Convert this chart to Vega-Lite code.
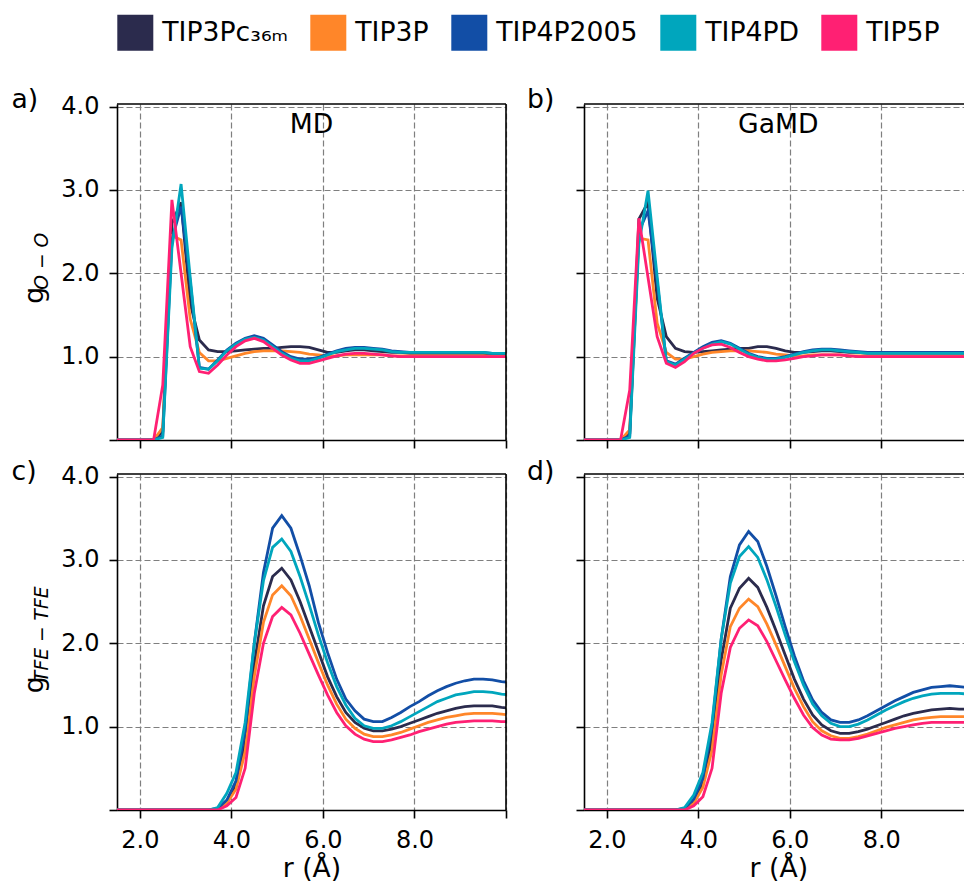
{
  "$schema": "https://vega.github.io/schema/vega-lite/v6.json",
  "padding": {"left": 11, "top": 14, "right": 0, "bottom": 0},
  "background": "white",
  "config": {
    "font": "DejaVu Sans",
    "view": {"stroke": null},
    "axis": {
      "domainColor": "black", "domainWidth": 1.6,
      "tickColor": "black", "tickWidth": 1.6, "tickSize": 8,
      "gridColor": "#7f7f7f", "gridDash": [6, 3], "gridWidth": 1.2,
      "labelColor": "black", "labelFontSize": 24, "labelPadding": 10, "labelFlush": false, "labelOverlap": false,
      "titleColor": "black", "titleFontWeight": "normal"
    },
    "title": {"fontSize": 26.67, "fontWeight": "normal", "anchor": "start", "frame": "group", "color": "black", "offset": 0, "baseline": "alphabetic"}
  },
  "datasets": {
    "mdOO": [
      {"m":"TIP3P_C36m","r":1.5,"g":0},{"m":"TIP3P_C36m","r":2.3,"g":0},{"m":"TIP3P_C36m","r":2.5,"g":0.1},{"m":"TIP3P_C36m","r":2.7,"g":2.6},{"m":"TIP3P_C36m","r":2.9,"g":2.85},{"m":"TIP3P_C36m","r":3.1,"g":1.64},{"m":"TIP3P_C36m","r":3.3,"g":1.2},{"m":"TIP3P_C36m","r":3.5,"g":1.08},{"m":"TIP3P_C36m","r":3.7,"g":1.06},{"m":"TIP3P_C36m","r":3.9,"g":1.06},{"m":"TIP3P_C36m","r":4.1,"g":1.07},{"m":"TIP3P_C36m","r":4.3,"g":1.08},{"m":"TIP3P_C36m","r":4.5,"g":1.09},{"m":"TIP3P_C36m","r":4.7,"g":1.1},{"m":"TIP3P_C36m","r":4.9,"g":1.1},{"m":"TIP3P_C36m","r":5.1,"g":1.11},{"m":"TIP3P_C36m","r":5.3,"g":1.12},{"m":"TIP3P_C36m","r":5.5,"g":1.12},{"m":"TIP3P_C36m","r":5.7,"g":1.11},{"m":"TIP3P_C36m","r":5.9,"g":1.08},{"m":"TIP3P_C36m","r":6.1,"g":1.05},{"m":"TIP3P_C36m","r":6.3,"g":1.05},{"m":"TIP3P_C36m","r":6.5,"g":1.07},{"m":"TIP3P_C36m","r":6.7,"g":1.08},{"m":"TIP3P_C36m","r":6.9,"g":1.08},{"m":"TIP3P_C36m","r":7.1,"g":1.07},{"m":"TIP3P_C36m","r":7.3,"g":1.06},{"m":"TIP3P_C36m","r":7.5,"g":1.05},{"m":"TIP3P_C36m","r":7.7,"g":1.05},{"m":"TIP3P_C36m","r":7.9,"g":1.04},{"m":"TIP3P_C36m","r":8.1,"g":1.04},{"m":"TIP3P_C36m","r":8.3,"g":1.04},{"m":"TIP3P_C36m","r":8.5,"g":1.04},{"m":"TIP3P_C36m","r":8.7,"g":1.04},{"m":"TIP3P_C36m","r":8.9,"g":1.04},{"m":"TIP3P_C36m","r":9.1,"g":1.04},{"m":"TIP3P_C36m","r":9.3,"g":1.04},{"m":"TIP3P_C36m","r":9.5,"g":1.04},{"m":"TIP3P_C36m","r":9.7,"g":1.03},{"m":"TIP3P_C36m","r":9.9,"g":1.03},{"m":"TIP3P_C36m","r":10.1,"g":1.03},
      {"m":"TIP3P","r":1.5,"g":0},{"m":"TIP3P","r":2.3,"g":0},{"m":"TIP3P","r":2.5,"g":0.15},{"m":"TIP3P","r":2.7,"g":2.45},{"m":"TIP3P","r":2.9,"g":2.4},{"m":"TIP3P","r":3.1,"g":1.45},{"m":"TIP3P","r":3.3,"g":1.05},{"m":"TIP3P","r":3.5,"g":0.95},{"m":"TIP3P","r":3.7,"g":0.95},{"m":"TIP3P","r":3.9,"g":0.98},{"m":"TIP3P","r":4.1,"g":1.01},{"m":"TIP3P","r":4.3,"g":1.04},{"m":"TIP3P","r":4.5,"g":1.06},{"m":"TIP3P","r":4.7,"g":1.07},{"m":"TIP3P","r":4.9,"g":1.07},{"m":"TIP3P","r":5.1,"g":1.07},{"m":"TIP3P","r":5.3,"g":1.06},{"m":"TIP3P","r":5.5,"g":1.05},{"m":"TIP3P","r":5.7,"g":1.03},{"m":"TIP3P","r":5.9,"g":1.02},{"m":"TIP3P","r":6.1,"g":1.01},{"m":"TIP3P","r":6.3,"g":1.01},{"m":"TIP3P","r":6.5,"g":1.02},{"m":"TIP3P","r":6.7,"g":1.02},{"m":"TIP3P","r":6.9,"g":1.02},{"m":"TIP3P","r":7.1,"g":1.02},{"m":"TIP3P","r":7.3,"g":1.02},{"m":"TIP3P","r":7.5,"g":1.01},{"m":"TIP3P","r":7.7,"g":1.01},{"m":"TIP3P","r":7.9,"g":1.01},{"m":"TIP3P","r":8.1,"g":1.01},{"m":"TIP3P","r":8.3,"g":1.01},{"m":"TIP3P","r":8.5,"g":1.01},{"m":"TIP3P","r":8.7,"g":1.01},{"m":"TIP3P","r":8.9,"g":1.01},{"m":"TIP3P","r":9.1,"g":1.01},{"m":"TIP3P","r":9.3,"g":1.01},{"m":"TIP3P","r":9.5,"g":1.01},{"m":"TIP3P","r":9.7,"g":1.01},{"m":"TIP3P","r":9.9,"g":1.01},{"m":"TIP3P","r":10.1,"g":1.01},
      {"m":"TIP4P2005","r":1.5,"g":0},{"m":"TIP4P2005","r":2.3,"g":0},{"m":"TIP4P2005","r":2.5,"g":0.05},{"m":"TIP4P2005","r":2.7,"g":2.4},{"m":"TIP4P2005","r":2.9,"g":2.8},{"m":"TIP4P2005","r":3.1,"g":1.9},{"m":"TIP4P2005","r":3.3,"g":0.87},{"m":"TIP4P2005","r":3.5,"g":0.85},{"m":"TIP4P2005","r":3.7,"g":0.96},{"m":"TIP4P2005","r":3.9,"g":1.08},{"m":"TIP4P2005","r":4.1,"g":1.16},{"m":"TIP4P2005","r":4.3,"g":1.22},{"m":"TIP4P2005","r":4.5,"g":1.25},{"m":"TIP4P2005","r":4.7,"g":1.22},{"m":"TIP4P2005","r":4.9,"g":1.14},{"m":"TIP4P2005","r":5.1,"g":1.06},{"m":"TIP4P2005","r":5.3,"g":1.0},{"m":"TIP4P2005","r":5.5,"g":0.97},{"m":"TIP4P2005","r":5.7,"g":0.97},{"m":"TIP4P2005","r":5.9,"g":0.99},{"m":"TIP4P2005","r":6.1,"g":1.03},{"m":"TIP4P2005","r":6.3,"g":1.07},{"m":"TIP4P2005","r":6.5,"g":1.1},{"m":"TIP4P2005","r":6.7,"g":1.11},{"m":"TIP4P2005","r":6.9,"g":1.11},{"m":"TIP4P2005","r":7.1,"g":1.1},{"m":"TIP4P2005","r":7.3,"g":1.09},{"m":"TIP4P2005","r":7.5,"g":1.07},{"m":"TIP4P2005","r":7.7,"g":1.06},{"m":"TIP4P2005","r":7.9,"g":1.05},{"m":"TIP4P2005","r":8.1,"g":1.05},{"m":"TIP4P2005","r":8.3,"g":1.05},{"m":"TIP4P2005","r":8.5,"g":1.05},{"m":"TIP4P2005","r":8.7,"g":1.05},{"m":"TIP4P2005","r":8.9,"g":1.05},{"m":"TIP4P2005","r":9.1,"g":1.05},{"m":"TIP4P2005","r":9.3,"g":1.05},{"m":"TIP4P2005","r":9.5,"g":1.05},{"m":"TIP4P2005","r":9.7,"g":1.04},{"m":"TIP4P2005","r":9.9,"g":1.04},{"m":"TIP4P2005","r":10.1,"g":1.04},
      {"m":"TIP4PD","r":1.5,"g":0},{"m":"TIP4PD","r":2.3,"g":0},{"m":"TIP4PD","r":2.5,"g":0.03},{"m":"TIP4PD","r":2.7,"g":2.3},{"m":"TIP4PD","r":2.9,"g":3.07},{"m":"TIP4PD","r":3.1,"g":1.95},{"m":"TIP4PD","r":3.3,"g":0.86},{"m":"TIP4PD","r":3.5,"g":0.85},{"m":"TIP4PD","r":3.7,"g":0.95},{"m":"TIP4PD","r":3.9,"g":1.07},{"m":"TIP4PD","r":4.1,"g":1.15},{"m":"TIP4PD","r":4.3,"g":1.21},{"m":"TIP4PD","r":4.5,"g":1.23},{"m":"TIP4PD","r":4.7,"g":1.2},{"m":"TIP4PD","r":4.9,"g":1.12},{"m":"TIP4PD","r":5.1,"g":1.04},{"m":"TIP4PD","r":5.3,"g":0.98},{"m":"TIP4PD","r":5.5,"g":0.95},{"m":"TIP4PD","r":5.7,"g":0.95},{"m":"TIP4PD","r":5.9,"g":0.98},{"m":"TIP4PD","r":6.1,"g":1.02},{"m":"TIP4PD","r":6.3,"g":1.06},{"m":"TIP4PD","r":6.5,"g":1.08},{"m":"TIP4PD","r":6.7,"g":1.1},{"m":"TIP4PD","r":6.9,"g":1.1},{"m":"TIP4PD","r":7.1,"g":1.09},{"m":"TIP4PD","r":7.3,"g":1.08},{"m":"TIP4PD","r":7.5,"g":1.06},{"m":"TIP4PD","r":7.7,"g":1.05},{"m":"TIP4PD","r":7.9,"g":1.05},{"m":"TIP4PD","r":8.1,"g":1.05},{"m":"TIP4PD","r":8.3,"g":1.05},{"m":"TIP4PD","r":8.5,"g":1.05},{"m":"TIP4PD","r":8.7,"g":1.05},{"m":"TIP4PD","r":8.9,"g":1.05},{"m":"TIP4PD","r":9.1,"g":1.05},{"m":"TIP4PD","r":9.3,"g":1.05},{"m":"TIP4PD","r":9.5,"g":1.05},{"m":"TIP4PD","r":9.7,"g":1.04},{"m":"TIP4PD","r":9.9,"g":1.04},{"m":"TIP4PD","r":10.1,"g":1.04},
      {"m":"TIP5P","r":1.5,"g":0},{"m":"TIP5P","r":2.3,"g":0},{"m":"TIP5P","r":2.5,"g":0.66},{"m":"TIP5P","r":2.7,"g":2.88},{"m":"TIP5P","r":2.9,"g":2.0},{"m":"TIP5P","r":3.1,"g":1.12},{"m":"TIP5P","r":3.3,"g":0.82},{"m":"TIP5P","r":3.5,"g":0.8},{"m":"TIP5P","r":3.7,"g":0.9},{"m":"TIP5P","r":3.9,"g":1.02},{"m":"TIP5P","r":4.1,"g":1.12},{"m":"TIP5P","r":4.3,"g":1.19},{"m":"TIP5P","r":4.5,"g":1.22},{"m":"TIP5P","r":4.7,"g":1.18},{"m":"TIP5P","r":4.9,"g":1.1},{"m":"TIP5P","r":5.1,"g":1.02},{"m":"TIP5P","r":5.3,"g":0.96},{"m":"TIP5P","r":5.5,"g":0.92},{"m":"TIP5P","r":5.7,"g":0.92},{"m":"TIP5P","r":5.9,"g":0.95},{"m":"TIP5P","r":6.1,"g":0.98},{"m":"TIP5P","r":6.3,"g":1.01},{"m":"TIP5P","r":6.5,"g":1.03},{"m":"TIP5P","r":6.7,"g":1.04},{"m":"TIP5P","r":6.9,"g":1.04},{"m":"TIP5P","r":7.1,"g":1.03},{"m":"TIP5P","r":7.3,"g":1.02},{"m":"TIP5P","r":7.5,"g":1.01},{"m":"TIP5P","r":7.7,"g":1.0},{"m":"TIP5P","r":7.9,"g":1.0},{"m":"TIP5P","r":8.1,"g":1.0},{"m":"TIP5P","r":8.3,"g":1.0},{"m":"TIP5P","r":8.5,"g":1.0},{"m":"TIP5P","r":8.7,"g":1.0},{"m":"TIP5P","r":8.9,"g":1.0},{"m":"TIP5P","r":9.1,"g":1.0},{"m":"TIP5P","r":9.3,"g":1.0},{"m":"TIP5P","r":9.5,"g":1.0},{"m":"TIP5P","r":9.7,"g":1.0},{"m":"TIP5P","r":9.9,"g":1.0},{"m":"TIP5P","r":10.1,"g":1.0}
    ],
    "gamdOO": [
      {"m":"TIP3P_C36m","r":1.5,"g":0},{"m":"TIP3P_C36m","r":2.3,"g":0},{"m":"TIP3P_C36m","r":2.5,"g":0.08},{"m":"TIP3P_C36m","r":2.7,"g":2.65},{"m":"TIP3P_C36m","r":2.9,"g":2.85},{"m":"TIP3P_C36m","r":3.1,"g":1.7},{"m":"TIP3P_C36m","r":3.3,"g":1.24},{"m":"TIP3P_C36m","r":3.5,"g":1.1},{"m":"TIP3P_C36m","r":3.7,"g":1.06},{"m":"TIP3P_C36m","r":3.9,"g":1.05},{"m":"TIP3P_C36m","r":4.1,"g":1.06},{"m":"TIP3P_C36m","r":4.3,"g":1.07},{"m":"TIP3P_C36m","r":4.5,"g":1.08},{"m":"TIP3P_C36m","r":4.7,"g":1.09},{"m":"TIP3P_C36m","r":4.9,"g":1.1},{"m":"TIP3P_C36m","r":5.1,"g":1.1},{"m":"TIP3P_C36m","r":5.3,"g":1.12},{"m":"TIP3P_C36m","r":5.5,"g":1.12},{"m":"TIP3P_C36m","r":5.7,"g":1.1},{"m":"TIP3P_C36m","r":5.9,"g":1.07},{"m":"TIP3P_C36m","r":6.1,"g":1.05},{"m":"TIP3P_C36m","r":6.3,"g":1.05},{"m":"TIP3P_C36m","r":6.5,"g":1.06},{"m":"TIP3P_C36m","r":6.7,"g":1.07},{"m":"TIP3P_C36m","r":6.9,"g":1.07},{"m":"TIP3P_C36m","r":7.1,"g":1.06},{"m":"TIP3P_C36m","r":7.3,"g":1.05},{"m":"TIP3P_C36m","r":7.5,"g":1.05},{"m":"TIP3P_C36m","r":7.7,"g":1.04},{"m":"TIP3P_C36m","r":7.9,"g":1.04},{"m":"TIP3P_C36m","r":8.1,"g":1.04},{"m":"TIP3P_C36m","r":8.3,"g":1.04},{"m":"TIP3P_C36m","r":8.5,"g":1.04},{"m":"TIP3P_C36m","r":8.7,"g":1.04},{"m":"TIP3P_C36m","r":8.9,"g":1.04},{"m":"TIP3P_C36m","r":9.1,"g":1.04},{"m":"TIP3P_C36m","r":9.3,"g":1.04},{"m":"TIP3P_C36m","r":9.5,"g":1.04},{"m":"TIP3P_C36m","r":9.7,"g":1.04},{"m":"TIP3P_C36m","r":9.9,"g":1.04},{"m":"TIP3P_C36m","r":10.1,"g":1.04},
      {"m":"TIP3P","r":1.5,"g":0},{"m":"TIP3P","r":2.3,"g":0},{"m":"TIP3P","r":2.5,"g":0.12},{"m":"TIP3P","r":2.7,"g":2.42},{"m":"TIP3P","r":2.9,"g":2.4},{"m":"TIP3P","r":3.1,"g":1.4},{"m":"TIP3P","r":3.3,"g":1.05},{"m":"TIP3P","r":3.5,"g":0.97},{"m":"TIP3P","r":3.7,"g":0.97},{"m":"TIP3P","r":3.9,"g":1.0},{"m":"TIP3P","r":4.1,"g":1.03},{"m":"TIP3P","r":4.3,"g":1.05},{"m":"TIP3P","r":4.5,"g":1.06},{"m":"TIP3P","r":4.7,"g":1.07},{"m":"TIP3P","r":4.9,"g":1.07},{"m":"TIP3P","r":5.1,"g":1.07},{"m":"TIP3P","r":5.3,"g":1.06},{"m":"TIP3P","r":5.5,"g":1.05},{"m":"TIP3P","r":5.7,"g":1.03},{"m":"TIP3P","r":5.9,"g":1.02},{"m":"TIP3P","r":6.1,"g":1.01},{"m":"TIP3P","r":6.3,"g":1.01},{"m":"TIP3P","r":6.5,"g":1.02},{"m":"TIP3P","r":6.7,"g":1.02},{"m":"TIP3P","r":6.9,"g":1.02},{"m":"TIP3P","r":7.1,"g":1.02},{"m":"TIP3P","r":7.3,"g":1.01},{"m":"TIP3P","r":7.5,"g":1.01},{"m":"TIP3P","r":7.7,"g":1.01},{"m":"TIP3P","r":7.9,"g":1.01},{"m":"TIP3P","r":8.1,"g":1.01},{"m":"TIP3P","r":8.3,"g":1.01},{"m":"TIP3P","r":8.5,"g":1.01},{"m":"TIP3P","r":8.7,"g":1.01},{"m":"TIP3P","r":8.9,"g":1.01},{"m":"TIP3P","r":9.1,"g":1.01},{"m":"TIP3P","r":9.3,"g":1.01},{"m":"TIP3P","r":9.5,"g":1.01},{"m":"TIP3P","r":9.7,"g":1.01},{"m":"TIP3P","r":9.9,"g":1.01},{"m":"TIP3P","r":10.1,"g":1.01},
      {"m":"TIP4P2005","r":1.5,"g":0},{"m":"TIP4P2005","r":2.3,"g":0},{"m":"TIP4P2005","r":2.5,"g":0.05},{"m":"TIP4P2005","r":2.7,"g":2.5},{"m":"TIP4P2005","r":2.9,"g":2.75},{"m":"TIP4P2005","r":3.1,"g":1.9},{"m":"TIP4P2005","r":3.3,"g":0.95},{"m":"TIP4P2005","r":3.5,"g":0.91},{"m":"TIP4P2005","r":3.7,"g":0.98},{"m":"TIP4P2005","r":3.9,"g":1.05},{"m":"TIP4P2005","r":4.1,"g":1.12},{"m":"TIP4P2005","r":4.3,"g":1.17},{"m":"TIP4P2005","r":4.5,"g":1.19},{"m":"TIP4P2005","r":4.7,"g":1.16},{"m":"TIP4P2005","r":4.9,"g":1.1},{"m":"TIP4P2005","r":5.1,"g":1.04},{"m":"TIP4P2005","r":5.3,"g":1.0},{"m":"TIP4P2005","r":5.5,"g":0.98},{"m":"TIP4P2005","r":5.7,"g":0.98},{"m":"TIP4P2005","r":5.9,"g":1.0},{"m":"TIP4P2005","r":6.1,"g":1.03},{"m":"TIP4P2005","r":6.3,"g":1.06},{"m":"TIP4P2005","r":6.5,"g":1.08},{"m":"TIP4P2005","r":6.7,"g":1.09},{"m":"TIP4P2005","r":6.9,"g":1.09},{"m":"TIP4P2005","r":7.1,"g":1.08},{"m":"TIP4P2005","r":7.3,"g":1.07},{"m":"TIP4P2005","r":7.5,"g":1.06},{"m":"TIP4P2005","r":7.7,"g":1.05},{"m":"TIP4P2005","r":7.9,"g":1.05},{"m":"TIP4P2005","r":8.1,"g":1.05},{"m":"TIP4P2005","r":8.3,"g":1.05},{"m":"TIP4P2005","r":8.5,"g":1.05},{"m":"TIP4P2005","r":8.7,"g":1.05},{"m":"TIP4P2005","r":8.9,"g":1.05},{"m":"TIP4P2005","r":9.1,"g":1.05},{"m":"TIP4P2005","r":9.3,"g":1.05},{"m":"TIP4P2005","r":9.5,"g":1.05},{"m":"TIP4P2005","r":9.7,"g":1.05},{"m":"TIP4P2005","r":9.9,"g":1.05},{"m":"TIP4P2005","r":10.1,"g":1.05},
      {"m":"TIP4PD","r":1.5,"g":0},{"m":"TIP4PD","r":2.3,"g":0},{"m":"TIP4PD","r":2.5,"g":0.03},{"m":"TIP4PD","r":2.7,"g":2.35},{"m":"TIP4PD","r":2.9,"g":2.99},{"m":"TIP4PD","r":3.1,"g":1.96},{"m":"TIP4PD","r":3.3,"g":0.94},{"m":"TIP4PD","r":3.5,"g":0.9},{"m":"TIP4PD","r":3.7,"g":0.97},{"m":"TIP4PD","r":3.9,"g":1.04},{"m":"TIP4PD","r":4.1,"g":1.1},{"m":"TIP4PD","r":4.3,"g":1.15},{"m":"TIP4PD","r":4.5,"g":1.18},{"m":"TIP4PD","r":4.7,"g":1.15},{"m":"TIP4PD","r":4.9,"g":1.09},{"m":"TIP4PD","r":5.1,"g":1.03},{"m":"TIP4PD","r":5.3,"g":0.99},{"m":"TIP4PD","r":5.5,"g":0.97},{"m":"TIP4PD","r":5.7,"g":0.97},{"m":"TIP4PD","r":5.9,"g":0.99},{"m":"TIP4PD","r":6.1,"g":1.02},{"m":"TIP4PD","r":6.3,"g":1.05},{"m":"TIP4PD","r":6.5,"g":1.07},{"m":"TIP4PD","r":6.7,"g":1.08},{"m":"TIP4PD","r":6.9,"g":1.08},{"m":"TIP4PD","r":7.1,"g":1.07},{"m":"TIP4PD","r":7.3,"g":1.06},{"m":"TIP4PD","r":7.5,"g":1.05},{"m":"TIP4PD","r":7.7,"g":1.04},{"m":"TIP4PD","r":7.9,"g":1.04},{"m":"TIP4PD","r":8.1,"g":1.04},{"m":"TIP4PD","r":8.3,"g":1.04},{"m":"TIP4PD","r":8.5,"g":1.04},{"m":"TIP4PD","r":8.7,"g":1.04},{"m":"TIP4PD","r":8.9,"g":1.04},{"m":"TIP4PD","r":9.1,"g":1.04},{"m":"TIP4PD","r":9.3,"g":1.04},{"m":"TIP4PD","r":9.5,"g":1.04},{"m":"TIP4PD","r":9.7,"g":1.04},{"m":"TIP4PD","r":9.9,"g":1.04},{"m":"TIP4PD","r":10.1,"g":1.04},
      {"m":"TIP5P","r":1.5,"g":0},{"m":"TIP5P","r":2.3,"g":0},{"m":"TIP5P","r":2.5,"g":0.6},{"m":"TIP5P","r":2.7,"g":2.66},{"m":"TIP5P","r":2.9,"g":1.95},{"m":"TIP5P","r":3.1,"g":1.24},{"m":"TIP5P","r":3.3,"g":0.92},{"m":"TIP5P","r":3.5,"g":0.87},{"m":"TIP5P","r":3.7,"g":0.94},{"m":"TIP5P","r":3.9,"g":1.04},{"m":"TIP5P","r":4.1,"g":1.1},{"m":"TIP5P","r":4.3,"g":1.14},{"m":"TIP5P","r":4.5,"g":1.15},{"m":"TIP5P","r":4.7,"g":1.11},{"m":"TIP5P","r":4.9,"g":1.05},{"m":"TIP5P","r":5.1,"g":1.0},{"m":"TIP5P","r":5.3,"g":0.97},{"m":"TIP5P","r":5.5,"g":0.95},{"m":"TIP5P","r":5.7,"g":0.95},{"m":"TIP5P","r":5.9,"g":0.96},{"m":"TIP5P","r":6.1,"g":0.98},{"m":"TIP5P","r":6.3,"g":1.0},{"m":"TIP5P","r":6.5,"g":1.01},{"m":"TIP5P","r":6.7,"g":1.02},{"m":"TIP5P","r":6.9,"g":1.02},{"m":"TIP5P","r":7.1,"g":1.02},{"m":"TIP5P","r":7.3,"g":1.01},{"m":"TIP5P","r":7.5,"g":1.0},{"m":"TIP5P","r":7.7,"g":1.0},{"m":"TIP5P","r":7.9,"g":1.0},{"m":"TIP5P","r":8.1,"g":1.0},{"m":"TIP5P","r":8.3,"g":1.0},{"m":"TIP5P","r":8.5,"g":1.0},{"m":"TIP5P","r":8.7,"g":1.0},{"m":"TIP5P","r":8.9,"g":1.0},{"m":"TIP5P","r":9.1,"g":1.0},{"m":"TIP5P","r":9.3,"g":1.0},{"m":"TIP5P","r":9.5,"g":1.0},{"m":"TIP5P","r":9.7,"g":1.0},{"m":"TIP5P","r":9.9,"g":1.0},{"m":"TIP5P","r":10.1,"g":1.0}
    ],
    "mdTFE": [
      {"m":"TIP3P_C36m","r":1.5,"g":0},{"m":"TIP3P_C36m","r":3.5,"g":0},{"m":"TIP3P_C36m","r":3.7,"g":0.01},{"m":"TIP3P_C36m","r":3.9,"g":0.1},{"m":"TIP3P_C36m","r":4.1,"g":0.3},{"m":"TIP3P_C36m","r":4.3,"g":0.8},{"m":"TIP3P_C36m","r":4.5,"g":1.75},{"m":"TIP3P_C36m","r":4.7,"g":2.45},{"m":"TIP3P_C36m","r":4.9,"g":2.8},{"m":"TIP3P_C36m","r":5.1,"g":2.9},{"m":"TIP3P_C36m","r":5.3,"g":2.76},{"m":"TIP3P_C36m","r":5.5,"g":2.5},{"m":"TIP3P_C36m","r":5.7,"g":2.2},{"m":"TIP3P_C36m","r":5.9,"g":1.9},{"m":"TIP3P_C36m","r":6.1,"g":1.6},{"m":"TIP3P_C36m","r":6.3,"g":1.36},{"m":"TIP3P_C36m","r":6.5,"g":1.17},{"m":"TIP3P_C36m","r":6.7,"g":1.05},{"m":"TIP3P_C36m","r":6.9,"g":0.98},{"m":"TIP3P_C36m","r":7.1,"g":0.95},{"m":"TIP3P_C36m","r":7.3,"g":0.95},{"m":"TIP3P_C36m","r":7.5,"g":0.97},{"m":"TIP3P_C36m","r":7.7,"g":1.0},{"m":"TIP3P_C36m","r":7.9,"g":1.04},{"m":"TIP3P_C36m","r":8.1,"g":1.08},{"m":"TIP3P_C36m","r":8.3,"g":1.12},{"m":"TIP3P_C36m","r":8.5,"g":1.16},{"m":"TIP3P_C36m","r":8.7,"g":1.19},{"m":"TIP3P_C36m","r":8.9,"g":1.22},{"m":"TIP3P_C36m","r":9.1,"g":1.24},{"m":"TIP3P_C36m","r":9.3,"g":1.25},{"m":"TIP3P_C36m","r":9.5,"g":1.25},{"m":"TIP3P_C36m","r":9.7,"g":1.25},{"m":"TIP3P_C36m","r":9.9,"g":1.23},{"m":"TIP3P_C36m","r":10.1,"g":1.22},
      {"m":"TIP3P","r":1.5,"g":0},{"m":"TIP3P","r":3.5,"g":0},{"m":"TIP3P","r":3.7,"g":0.01},{"m":"TIP3P","r":3.9,"g":0.08},{"m":"TIP3P","r":4.1,"g":0.25},{"m":"TIP3P","r":4.3,"g":0.7},{"m":"TIP3P","r":4.5,"g":1.6},{"m":"TIP3P","r":4.7,"g":2.25},{"m":"TIP3P","r":4.9,"g":2.58},{"m":"TIP3P","r":5.1,"g":2.69},{"m":"TIP3P","r":5.3,"g":2.57},{"m":"TIP3P","r":5.5,"g":2.33},{"m":"TIP3P","r":5.7,"g":2.05},{"m":"TIP3P","r":5.9,"g":1.77},{"m":"TIP3P","r":6.1,"g":1.5},{"m":"TIP3P","r":6.3,"g":1.27},{"m":"TIP3P","r":6.5,"g":1.09},{"m":"TIP3P","r":6.7,"g":0.98},{"m":"TIP3P","r":6.9,"g":0.91},{"m":"TIP3P","r":7.1,"g":0.88},{"m":"TIP3P","r":7.3,"g":0.88},{"m":"TIP3P","r":7.5,"g":0.9},{"m":"TIP3P","r":7.7,"g":0.93},{"m":"TIP3P","r":7.9,"g":0.97},{"m":"TIP3P","r":8.1,"g":1.01},{"m":"TIP3P","r":8.3,"g":1.05},{"m":"TIP3P","r":8.5,"g":1.08},{"m":"TIP3P","r":8.7,"g":1.11},{"m":"TIP3P","r":8.9,"g":1.13},{"m":"TIP3P","r":9.1,"g":1.15},{"m":"TIP3P","r":9.3,"g":1.16},{"m":"TIP3P","r":9.5,"g":1.16},{"m":"TIP3P","r":9.7,"g":1.16},{"m":"TIP3P","r":9.9,"g":1.15},{"m":"TIP3P","r":10.1,"g":1.14},
      {"m":"TIP4P2005","r":1.5,"g":0},{"m":"TIP4P2005","r":3.5,"g":0},{"m":"TIP4P2005","r":3.7,"g":0.02},{"m":"TIP4P2005","r":3.9,"g":0.12},{"m":"TIP4P2005","r":4.1,"g":0.35},{"m":"TIP4P2005","r":4.3,"g":0.95},{"m":"TIP4P2005","r":4.5,"g":2.0},{"m":"TIP4P2005","r":4.7,"g":2.85},{"m":"TIP4P2005","r":4.9,"g":3.38},{"m":"TIP4P2005","r":5.1,"g":3.53},{"m":"TIP4P2005","r":5.3,"g":3.38},{"m":"TIP4P2005","r":5.5,"g":3.05},{"m":"TIP4P2005","r":5.7,"g":2.69},{"m":"TIP4P2005","r":5.9,"g":2.25},{"m":"TIP4P2005","r":6.1,"g":1.89},{"m":"TIP4P2005","r":6.3,"g":1.57},{"m":"TIP4P2005","r":6.5,"g":1.33},{"m":"TIP4P2005","r":6.7,"g":1.19},{"m":"TIP4P2005","r":6.9,"g":1.09},{"m":"TIP4P2005","r":7.1,"g":1.06},{"m":"TIP4P2005","r":7.3,"g":1.06},{"m":"TIP4P2005","r":7.5,"g":1.11},{"m":"TIP4P2005","r":7.7,"g":1.17},{"m":"TIP4P2005","r":7.9,"g":1.24},{"m":"TIP4P2005","r":8.1,"g":1.3},{"m":"TIP4P2005","r":8.3,"g":1.37},{"m":"TIP4P2005","r":8.5,"g":1.43},{"m":"TIP4P2005","r":8.7,"g":1.48},{"m":"TIP4P2005","r":8.9,"g":1.52},{"m":"TIP4P2005","r":9.1,"g":1.55},{"m":"TIP4P2005","r":9.3,"g":1.57},{"m":"TIP4P2005","r":9.5,"g":1.57},{"m":"TIP4P2005","r":9.7,"g":1.56},{"m":"TIP4P2005","r":9.9,"g":1.54},{"m":"TIP4P2005","r":10.1,"g":1.53},
      {"m":"TIP4PD","r":1.5,"g":0},{"m":"TIP4PD","r":3.5,"g":0},{"m":"TIP4PD","r":3.7,"g":0.03},{"m":"TIP4PD","r":3.9,"g":0.2},{"m":"TIP4PD","r":4.1,"g":0.45},{"m":"TIP4PD","r":4.3,"g":1.05},{"m":"TIP4PD","r":4.5,"g":2.0},{"m":"TIP4PD","r":4.7,"g":2.75},{"m":"TIP4PD","r":4.9,"g":3.15},{"m":"TIP4PD","r":5.1,"g":3.25},{"m":"TIP4PD","r":5.3,"g":3.1},{"m":"TIP4PD","r":5.5,"g":2.8},{"m":"TIP4PD","r":5.7,"g":2.46},{"m":"TIP4PD","r":5.9,"g":2.1},{"m":"TIP4PD","r":6.1,"g":1.77},{"m":"TIP4PD","r":6.3,"g":1.48},{"m":"TIP4PD","r":6.5,"g":1.26},{"m":"TIP4PD","r":6.7,"g":1.1},{"m":"TIP4PD","r":6.9,"g":1.01},{"m":"TIP4PD","r":7.1,"g":0.98},{"m":"TIP4PD","r":7.3,"g":0.98},{"m":"TIP4PD","r":7.5,"g":1.01},{"m":"TIP4PD","r":7.7,"g":1.06},{"m":"TIP4PD","r":7.9,"g":1.12},{"m":"TIP4PD","r":8.1,"g":1.18},{"m":"TIP4PD","r":8.3,"g":1.24},{"m":"TIP4PD","r":8.5,"g":1.3},{"m":"TIP4PD","r":8.7,"g":1.34},{"m":"TIP4PD","r":8.9,"g":1.38},{"m":"TIP4PD","r":9.1,"g":1.4},{"m":"TIP4PD","r":9.3,"g":1.42},{"m":"TIP4PD","r":9.5,"g":1.42},{"m":"TIP4PD","r":9.7,"g":1.41},{"m":"TIP4PD","r":9.9,"g":1.39},{"m":"TIP4PD","r":10.1,"g":1.38},
      {"m":"TIP5P","r":1.5,"g":0},{"m":"TIP5P","r":3.5,"g":0},{"m":"TIP5P","r":3.7,"g":0.0},{"m":"TIP5P","r":3.9,"g":0.05},{"m":"TIP5P","r":4.1,"g":0.15},{"m":"TIP5P","r":4.3,"g":0.5},{"m":"TIP5P","r":4.5,"g":1.4},{"m":"TIP5P","r":4.7,"g":2.0},{"m":"TIP5P","r":4.9,"g":2.32},{"m":"TIP5P","r":5.1,"g":2.43},{"m":"TIP5P","r":5.3,"g":2.34},{"m":"TIP5P","r":5.5,"g":2.12},{"m":"TIP5P","r":5.7,"g":1.87},{"m":"TIP5P","r":5.9,"g":1.62},{"m":"TIP5P","r":6.1,"g":1.38},{"m":"TIP5P","r":6.3,"g":1.17},{"m":"TIP5P","r":6.5,"g":1.01},{"m":"TIP5P","r":6.7,"g":0.91},{"m":"TIP5P","r":6.9,"g":0.85},{"m":"TIP5P","r":7.1,"g":0.82},{"m":"TIP5P","r":7.3,"g":0.82},{"m":"TIP5P","r":7.5,"g":0.84},{"m":"TIP5P","r":7.7,"g":0.87},{"m":"TIP5P","r":7.9,"g":0.9},{"m":"TIP5P","r":8.1,"g":0.94},{"m":"TIP5P","r":8.3,"g":0.97},{"m":"TIP5P","r":8.5,"g":1.0},{"m":"TIP5P","r":8.7,"g":1.03},{"m":"TIP5P","r":8.9,"g":1.05},{"m":"TIP5P","r":9.1,"g":1.06},{"m":"TIP5P","r":9.3,"g":1.07},{"m":"TIP5P","r":9.5,"g":1.07},{"m":"TIP5P","r":9.7,"g":1.07},{"m":"TIP5P","r":9.9,"g":1.06},{"m":"TIP5P","r":10.1,"g":1.06}
    ],
    "gamdTFE": [
      {"m":"TIP3P_C36m","r":1.5,"g":0},{"m":"TIP3P_C36m","r":3.5,"g":0},{"m":"TIP3P_C36m","r":3.7,"g":0.01},{"m":"TIP3P_C36m","r":3.9,"g":0.1},{"m":"TIP3P_C36m","r":4.1,"g":0.32},{"m":"TIP3P_C36m","r":4.3,"g":0.85},{"m":"TIP3P_C36m","r":4.5,"g":1.8},{"m":"TIP3P_C36m","r":4.7,"g":2.42},{"m":"TIP3P_C36m","r":4.9,"g":2.66},{"m":"TIP3P_C36m","r":5.1,"g":2.78},{"m":"TIP3P_C36m","r":5.3,"g":2.67},{"m":"TIP3P_C36m","r":5.5,"g":2.43},{"m":"TIP3P_C36m","r":5.7,"g":2.15},{"m":"TIP3P_C36m","r":5.9,"g":1.86},{"m":"TIP3P_C36m","r":6.1,"g":1.57},{"m":"TIP3P_C36m","r":6.3,"g":1.33},{"m":"TIP3P_C36m","r":6.5,"g":1.14},{"m":"TIP3P_C36m","r":6.7,"g":1.02},{"m":"TIP3P_C36m","r":6.9,"g":0.95},{"m":"TIP3P_C36m","r":7.1,"g":0.92},{"m":"TIP3P_C36m","r":7.3,"g":0.92},{"m":"TIP3P_C36m","r":7.5,"g":0.94},{"m":"TIP3P_C36m","r":7.7,"g":0.97},{"m":"TIP3P_C36m","r":7.9,"g":1.01},{"m":"TIP3P_C36m","r":8.1,"g":1.05},{"m":"TIP3P_C36m","r":8.3,"g":1.09},{"m":"TIP3P_C36m","r":8.5,"g":1.13},{"m":"TIP3P_C36m","r":8.7,"g":1.16},{"m":"TIP3P_C36m","r":8.9,"g":1.18},{"m":"TIP3P_C36m","r":9.1,"g":1.2},{"m":"TIP3P_C36m","r":9.3,"g":1.21},{"m":"TIP3P_C36m","r":9.5,"g":1.22},{"m":"TIP3P_C36m","r":9.7,"g":1.21},{"m":"TIP3P_C36m","r":9.9,"g":1.21},{"m":"TIP3P_C36m","r":10.1,"g":1.21},
      {"m":"TIP3P","r":1.5,"g":0},{"m":"TIP3P","r":3.5,"g":0},{"m":"TIP3P","r":3.7,"g":0.01},{"m":"TIP3P","r":3.9,"g":0.08},{"m":"TIP3P","r":4.1,"g":0.27},{"m":"TIP3P","r":4.3,"g":0.72},{"m":"TIP3P","r":4.5,"g":1.62},{"m":"TIP3P","r":4.7,"g":2.2},{"m":"TIP3P","r":4.9,"g":2.42},{"m":"TIP3P","r":5.1,"g":2.53},{"m":"TIP3P","r":5.3,"g":2.44},{"m":"TIP3P","r":5.5,"g":2.23},{"m":"TIP3P","r":5.7,"g":1.98},{"m":"TIP3P","r":5.9,"g":1.72},{"m":"TIP3P","r":6.1,"g":1.46},{"m":"TIP3P","r":6.3,"g":1.24},{"m":"TIP3P","r":6.5,"g":1.06},{"m":"TIP3P","r":6.7,"g":0.95},{"m":"TIP3P","r":6.9,"g":0.89},{"m":"TIP3P","r":7.1,"g":0.86},{"m":"TIP3P","r":7.3,"g":0.86},{"m":"TIP3P","r":7.5,"g":0.88},{"m":"TIP3P","r":7.7,"g":0.91},{"m":"TIP3P","r":7.9,"g":0.95},{"m":"TIP3P","r":8.1,"g":0.99},{"m":"TIP3P","r":8.3,"g":1.02},{"m":"TIP3P","r":8.5,"g":1.05},{"m":"TIP3P","r":8.7,"g":1.08},{"m":"TIP3P","r":8.9,"g":1.1},{"m":"TIP3P","r":9.1,"g":1.11},{"m":"TIP3P","r":9.3,"g":1.12},{"m":"TIP3P","r":9.5,"g":1.12},{"m":"TIP3P","r":9.7,"g":1.12},{"m":"TIP3P","r":9.9,"g":1.12},{"m":"TIP3P","r":10.1,"g":1.12},
      {"m":"TIP4P2005","r":1.5,"g":0},{"m":"TIP4P2005","r":3.5,"g":0},{"m":"TIP4P2005","r":3.7,"g":0.02},{"m":"TIP4P2005","r":3.9,"g":0.13},{"m":"TIP4P2005","r":4.1,"g":0.38},{"m":"TIP4P2005","r":4.3,"g":1.0},{"m":"TIP4P2005","r":4.5,"g":2.05},{"m":"TIP4P2005","r":4.7,"g":2.8},{"m":"TIP4P2005","r":4.9,"g":3.18},{"m":"TIP4P2005","r":5.1,"g":3.34},{"m":"TIP4P2005","r":5.3,"g":3.22},{"m":"TIP4P2005","r":5.5,"g":2.92},{"m":"TIP4P2005","r":5.7,"g":2.57},{"m":"TIP4P2005","r":5.9,"g":2.2},{"m":"TIP4P2005","r":6.1,"g":1.85},{"m":"TIP4P2005","r":6.3,"g":1.55},{"m":"TIP4P2005","r":6.5,"g":1.32},{"m":"TIP4P2005","r":6.7,"g":1.17},{"m":"TIP4P2005","r":6.9,"g":1.08},{"m":"TIP4P2005","r":7.1,"g":1.05},{"m":"TIP4P2005","r":7.3,"g":1.05},{"m":"TIP4P2005","r":7.5,"g":1.08},{"m":"TIP4P2005","r":7.7,"g":1.13},{"m":"TIP4P2005","r":7.9,"g":1.19},{"m":"TIP4P2005","r":8.1,"g":1.25},{"m":"TIP4P2005","r":8.3,"g":1.31},{"m":"TIP4P2005","r":8.5,"g":1.36},{"m":"TIP4P2005","r":8.7,"g":1.41},{"m":"TIP4P2005","r":8.9,"g":1.44},{"m":"TIP4P2005","r":9.1,"g":1.47},{"m":"TIP4P2005","r":9.3,"g":1.48},{"m":"TIP4P2005","r":9.5,"g":1.49},{"m":"TIP4P2005","r":9.7,"g":1.48},{"m":"TIP4P2005","r":9.9,"g":1.47},{"m":"TIP4P2005","r":10.1,"g":1.46},
      {"m":"TIP4PD","r":1.5,"g":0},{"m":"TIP4PD","r":3.5,"g":0},{"m":"TIP4PD","r":3.7,"g":0.03},{"m":"TIP4PD","r":3.9,"g":0.18},{"m":"TIP4PD","r":4.1,"g":0.45},{"m":"TIP4PD","r":4.3,"g":1.05},{"m":"TIP4PD","r":4.5,"g":2.05},{"m":"TIP4PD","r":4.7,"g":2.72},{"m":"TIP4PD","r":4.9,"g":3.04},{"m":"TIP4PD","r":5.1,"g":3.16},{"m":"TIP4PD","r":5.3,"g":3.03},{"m":"TIP4PD","r":5.5,"g":2.76},{"m":"TIP4PD","r":5.7,"g":2.44},{"m":"TIP4PD","r":5.9,"g":2.1},{"m":"TIP4PD","r":6.1,"g":1.78},{"m":"TIP4PD","r":6.3,"g":1.5},{"m":"TIP4PD","r":6.5,"g":1.27},{"m":"TIP4PD","r":6.7,"g":1.13},{"m":"TIP4PD","r":6.9,"g":1.04},{"m":"TIP4PD","r":7.1,"g":1.0},{"m":"TIP4PD","r":7.3,"g":1.0},{"m":"TIP4PD","r":7.5,"g":1.03},{"m":"TIP4PD","r":7.7,"g":1.08},{"m":"TIP4PD","r":7.9,"g":1.14},{"m":"TIP4PD","r":8.1,"g":1.2},{"m":"TIP4PD","r":8.3,"g":1.25},{"m":"TIP4PD","r":8.5,"g":1.3},{"m":"TIP4PD","r":8.7,"g":1.34},{"m":"TIP4PD","r":8.9,"g":1.37},{"m":"TIP4PD","r":9.1,"g":1.39},{"m":"TIP4PD","r":9.3,"g":1.4},{"m":"TIP4PD","r":9.5,"g":1.4},{"m":"TIP4PD","r":9.7,"g":1.4},{"m":"TIP4PD","r":9.9,"g":1.39},{"m":"TIP4PD","r":10.1,"g":1.39},
      {"m":"TIP5P","r":1.5,"g":0},{"m":"TIP5P","r":3.5,"g":0},{"m":"TIP5P","r":3.7,"g":0.0},{"m":"TIP5P","r":3.9,"g":0.05},{"m":"TIP5P","r":4.1,"g":0.16},{"m":"TIP5P","r":4.3,"g":0.5},{"m":"TIP5P","r":4.5,"g":1.4},{"m":"TIP5P","r":4.7,"g":1.95},{"m":"TIP5P","r":4.9,"g":2.18},{"m":"TIP5P","r":5.1,"g":2.28},{"m":"TIP5P","r":5.3,"g":2.21},{"m":"TIP5P","r":5.5,"g":2.02},{"m":"TIP5P","r":5.7,"g":1.79},{"m":"TIP5P","r":5.9,"g":1.56},{"m":"TIP5P","r":6.1,"g":1.34},{"m":"TIP5P","r":6.3,"g":1.14},{"m":"TIP5P","r":6.5,"g":0.99},{"m":"TIP5P","r":6.7,"g":0.9},{"m":"TIP5P","r":6.9,"g":0.85},{"m":"TIP5P","r":7.1,"g":0.84},{"m":"TIP5P","r":7.3,"g":0.84},{"m":"TIP5P","r":7.5,"g":0.86},{"m":"TIP5P","r":7.7,"g":0.89},{"m":"TIP5P","r":7.9,"g":0.92},{"m":"TIP5P","r":8.1,"g":0.95},{"m":"TIP5P","r":8.3,"g":0.98},{"m":"TIP5P","r":8.5,"g":1.0},{"m":"TIP5P","r":8.7,"g":1.02},{"m":"TIP5P","r":8.9,"g":1.04},{"m":"TIP5P","r":9.1,"g":1.05},{"m":"TIP5P","r":9.3,"g":1.05},{"m":"TIP5P","r":9.5,"g":1.05},{"m":"TIP5P","r":9.7,"g":1.05},{"m":"TIP5P","r":9.9,"g":1.05},{"m":"TIP5P","r":10.1,"g":1.05}
    ]
  },
  "columns": 2,
  "spacing": {"row": 34, "column": 78},
  "bounds": "flush",
  "resolve": {"scale": {"color": "shared"}, "legend": {"color": "shared"}},
  "concat": [
    {
      "width": 389, "height": 336,
      "title": {"text": "a)", "dx": -105.5, "dy": 23},
      "layer": [
        {
          "data": {"name": "mdOO"},
          "mark": {"type": "line", "strokeWidth": 2.8, "clip": true},
          "encoding": {
            "x": {"field": "r", "type": "quantitative", "scale": {"domain": [1.5, 10], "nice": false, "zero": false},
                  "axis": {"values": [2, 4, 6, 8, 10], "labels": false, "title": null, "grid": true}},
            "y": {"field": "g", "type": "quantitative", "scale": {"domain": [0, 4.03], "nice": false, "zero": false},
                  "axis": {"orient": "left", "values": [0, 1, 2, 3, 4], "grid": true,
                           "labelExpr": "datum.value == 0 ? '' : format(datum.value, '.1f')",
                           "title": "g", "titleFontSize": 26.67, "titleAngle": 270, "titleAlign": "center", "titleBaseline": "alphabetic", "titleX": -75, "titleY": 190.7}},
            "color": {"field": "m", "type": "nominal",
                      "scale": {"domain": ["TIP3P_C36m", "TIP3P", "TIP4P2005", "TIP4PD", "TIP5P"], "range": ["#2b2b4d", "#ff8629", "#124ea6", "#00a6bd", "#ff2073"]},
                      "legend": {"orient": "none", "legendX": 0.3, "legendY": -89.3, "direction": "horizontal", "columns": 5, "title": null,
                                 "symbolType": "square", "symbolSize": 1296, "symbolStrokeWidth": 0, "symbolOpacity": 1,
                                 "labelFontSize": 26.67, "labelColor": "black", "labelOffset": 9, "labelLimit": 0, "columnPadding": 22, "padding": 0,
                                 "labelExpr": "datum.label == 'TIP3P_C36m' ? 'TIP3Pᴄ₃₆ₘ' : datum.label",
                                 "encode": {"symbols": {"update": {"fill": {"scale": "color", "field": "value"}, "strokeWidth": {"value": 0}}}}}}
          }
        },
        {
          "data": {"values": [{}]},
          "mark": {"type": "rule", "color": "black", "strokeWidth": 1.6},
          "encoding": {"y": {"datum": 4.03, "type": "quantitative", "scale": {"domain": [0, 4.03], "nice": false, "zero": false},
                             "axis": {"orient": "left", "labels": false, "ticks": false, "domain": false, "grid": false,
                                      "title": "O − O", "titleFontSize": 18.7, "titleFontStyle": "italic", "titleAngle": 270, "titleAlign": "center", "titleBaseline": "alphabetic", "titleX": -69.7, "titleY": 156.7}}}
        },
        {
          "data": {"values": [{}]},
          "mark": {"type": "rule", "color": "black", "strokeWidth": 1.6},
          "encoding": {"x": {"datum": 10, "type": "quantitative", "axis": null}}
        },
        {
          "data": {"values": [{}]},
          "mark": {"type": "text", "fontSize": 26.67, "align": "center", "baseline": "alphabetic", "color": "black"},
          "encoding": {"x": {"datum": 5.75, "type": "quantitative", "axis": null}, "y": {"datum": 3.68, "type": "quantitative", "axis": null}, "text": {"value": "MD"}}
        }
      ],
      "resolve": {"axis": {"x": "independent", "y": "independent"}}
    },
    {
      "width": 380, "height": 336,
      "title": {"text": "b)", "dx": -57, "dy": 14.4},
      "layer": [
        {
          "data": {"name": "gamdOO"},
          "mark": {"type": "line", "strokeWidth": 2.8, "clip": true},
          "encoding": {
            "x": {"field": "r", "type": "quantitative", "scale": {"domain": [1.5, 9.81], "nice": false, "zero": false},
                  "axis": {"values": [2, 4, 6, 8], "labels": false, "title": null, "grid": true}},
            "y": {"field": "g", "type": "quantitative", "scale": {"domain": [0, 4.03], "nice": false, "zero": false},
                  "axis": {"orient": "left", "values": [0, 1, 2, 3, 4], "grid": true, "labels": false, "title": null}},
            "color": {"field": "m", "type": "nominal",
                      "scale": {"domain": ["TIP3P_C36m", "TIP3P", "TIP4P2005", "TIP4PD", "TIP5P"], "range": ["#2b2b4d", "#ff8629", "#124ea6", "#00a6bd", "#ff2073"]},
                      "legend": {"orient": "none", "legendX": 0.3, "legendY": -89.3, "direction": "horizontal", "columns": 5, "title": null,
                                 "symbolType": "square", "symbolSize": 1296, "symbolStrokeWidth": 0, "symbolOpacity": 1,
                                 "labelFontSize": 26.67, "labelColor": "black", "labelOffset": 9, "labelLimit": 0, "columnPadding": 22, "padding": 0,
                                 "labelExpr": "datum.label == 'TIP3P_C36m' ? 'TIP3Pᴄ₃₆ₘ' : datum.label",
                                 "encode": {"symbols": {"update": {"fill": {"scale": "color", "field": "value"}, "strokeWidth": {"value": 0}}}}}}
          }
        },
        {
          "data": {"values": [{}]},
          "mark": {"type": "rule", "color": "black", "strokeWidth": 1.6},
          "encoding": {"y": {"datum": 4.03, "type": "quantitative", "axis": null}}
        },
        {
          "data": {"values": [{}]},
          "mark": {"type": "text", "fontSize": 26.67, "align": "center", "baseline": "alphabetic", "color": "black"},
          "encoding": {"x": {"datum": 5.75, "type": "quantitative", "axis": null}, "y": {"datum": 3.68, "type": "quantitative", "axis": null}, "text": {"value": "GaMD"}}
        }
      ],
      "resolve": {"axis": {"x": "independent", "y": "independent"}}
    },
    {
      "width": 389, "height": 336,
      "title": {"text": "c)", "dx": -105.5, "dy": 25},
      "layer": [
        {
          "data": {"name": "mdTFE"},
          "mark": {"type": "line", "strokeWidth": 2.8, "clip": true},
          "encoding": {
            "x": {"field": "r", "type": "quantitative", "scale": {"domain": [1.5, 10], "nice": false, "zero": false},
                  "axis": {"values": [2, 4, 6, 8, 10], "grid": true, "labelExpr": "datum.value == 10 ? '' : format(datum.value, '.1f')",
                           "title": "r (Å)", "titleFontSize": 26.67, "titleBaseline": "alphabetic", "titleY": 66}},
            "y": {"field": "g", "type": "quantitative", "scale": {"domain": [0, 4.03], "nice": false, "zero": false},
                  "axis": {"orient": "left", "values": [0, 1, 2, 3, 4], "grid": true,
                           "labelExpr": "datum.value == 0 ? '' : format(datum.value, '.1f')",
                           "title": "g", "titleFontSize": 26.67, "titleAngle": 270, "titleAlign": "center", "titleBaseline": "alphabetic", "titleX": -75, "titleY": 210.2}},
            "color": {"field": "m", "type": "nominal",
                      "scale": {"domain": ["TIP3P_C36m", "TIP3P", "TIP4P2005", "TIP4PD", "TIP5P"], "range": ["#2b2b4d", "#ff8629", "#124ea6", "#00a6bd", "#ff2073"]},
                      "legend": {"orient": "none", "legendX": 0.3, "legendY": -89.3, "direction": "horizontal", "columns": 5, "title": null,
                                 "symbolType": "square", "symbolSize": 1296, "symbolStrokeWidth": 0, "symbolOpacity": 1,
                                 "labelFontSize": 26.67, "labelColor": "black", "labelOffset": 9, "labelLimit": 0, "columnPadding": 22, "padding": 0,
                                 "labelExpr": "datum.label == 'TIP3P_C36m' ? 'TIP3Pᴄ₃₆ₘ' : datum.label",
                                 "encode": {"symbols": {"update": {"fill": {"scale": "color", "field": "value"}, "strokeWidth": {"value": 0}}}}}}
          }
        },
        {
          "data": {"values": [{}]},
          "mark": {"type": "rule", "color": "black", "strokeWidth": 1.6},
          "encoding": {"y": {"datum": 4.03, "type": "quantitative", "scale": {"domain": [0, 4.03], "nice": false, "zero": false},
                             "axis": {"orient": "left", "labels": false, "ticks": false, "domain": false, "grid": false,
                                      "title": "TFE − TFE", "titleFontSize": 18.7, "titleFontStyle": "italic", "titleAngle": 270, "titleAlign": "center", "titleBaseline": "alphabetic", "titleX": -69.7, "titleY": 159.7}}}
        },
        {
          "data": {"values": [{}]},
          "mark": {"type": "rule", "color": "black", "strokeWidth": 1.6},
          "encoding": {"x": {"datum": 10, "type": "quantitative", "axis": null}}
        }
      ],
      "resolve": {"axis": {"x": "independent", "y": "independent"}}
    },
    {
      "width": 380, "height": 336,
      "title": {"text": "d)", "dx": -57, "dy": 16},
      "layer": [
        {
          "data": {"name": "gamdTFE"},
          "mark": {"type": "line", "strokeWidth": 2.8, "clip": true},
          "encoding": {
            "x": {"field": "r", "type": "quantitative", "scale": {"domain": [1.5, 9.81], "nice": false, "zero": false},
                  "axis": {"values": [2, 4, 6, 8], "grid": true, "format": ".1f",
                           "title": "r (Å)", "titleFontSize": 26.67, "titleBaseline": "alphabetic", "titleY": 66, "titleX": 194.3}},
            "y": {"field": "g", "type": "quantitative", "scale": {"domain": [0, 4.03], "nice": false, "zero": false},
                  "axis": {"orient": "left", "values": [0, 1, 2, 3, 4], "grid": true, "labels": false, "title": null}},
            "color": {"field": "m", "type": "nominal",
                      "scale": {"domain": ["TIP3P_C36m", "TIP3P", "TIP4P2005", "TIP4PD", "TIP5P"], "range": ["#2b2b4d", "#ff8629", "#124ea6", "#00a6bd", "#ff2073"]},
                      "legend": {"orient": "none", "legendX": 0.3, "legendY": -89.3, "direction": "horizontal", "columns": 5, "title": null,
                                 "symbolType": "square", "symbolSize": 1296, "symbolStrokeWidth": 0, "symbolOpacity": 1,
                                 "labelFontSize": 26.67, "labelColor": "black", "labelOffset": 9, "labelLimit": 0, "columnPadding": 22, "padding": 0,
                                 "labelExpr": "datum.label == 'TIP3P_C36m' ? 'TIP3Pᴄ₃₆ₘ' : datum.label",
                                 "encode": {"symbols": {"update": {"fill": {"scale": "color", "field": "value"}, "strokeWidth": {"value": 0}}}}}}
          }
        },
        {
          "data": {"values": [{}]},
          "mark": {"type": "rule", "color": "black", "strokeWidth": 1.6},
          "encoding": {"y": {"datum": 4.03, "type": "quantitative", "axis": null}}
        }
      ],
      "resolve": {"axis": {"x": "independent", "y": "independent"}}
    }
  ]
}
